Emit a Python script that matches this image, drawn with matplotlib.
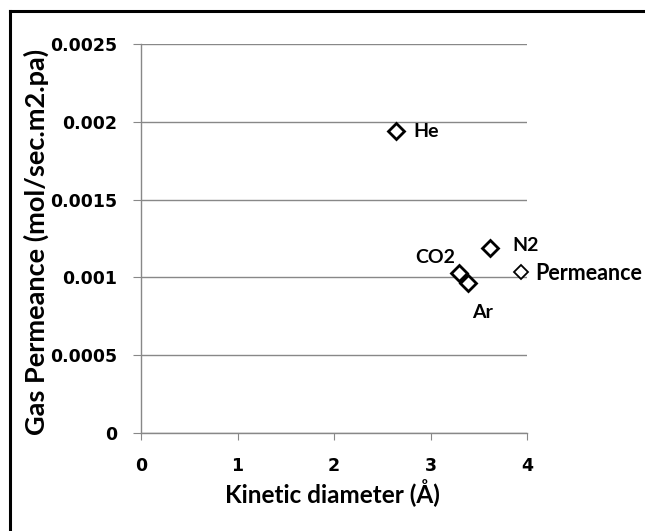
import matplotlib
matplotlib.use('Agg')
import matplotlib.pyplot as plt
from matplotlib.lines import Line2D

# kinetic diameter (A) vs gas permeance (mol/sec.m2.pa)
gases = ['He', 'CO2', 'Ar', 'N2']
diam = [2.64, 3.30, 3.39, 3.62]
perm = [0.00194, 0.00103, 0.000962, 0.00119]
# label offsets in pixels (dx, dy) and alignment
offsets = {'He': (18, 0, 'left'), 'CO2': (-4, 15, 'right'),
           'Ar': (4, -29, 'left'), 'N2': (22, 2, 'left')}

xticks = [0, 1, 2, 3, 4]
yticks = [0, 0.0005, 0.001, 0.0015, 0.002, 0.0025]
ytick_labels = ['0', '0.0005', '0.001', '0.0015', '0.002', '0.0025']

W, H = 645, 531
fig = plt.figure(figsize=(W/100, H/100), dpi=100)
ax = fig.add_axes([141/W, 1-433/H, (527-141)/W, (433-44)/H])

grey = '#888888'
txt = dict(family='Lato', weight='bold')

ax.plot(diam, perm, ls='none', marker='D', ms=8.3, mfc='white', mec='black',
        mew=2, label='Permeance', clip_on=False, zorder=3)
for g, x, y in zip(gases, diam, perm):
    dx, dy, ha = offsets[g]
    ax.annotate(g, (x, y), xytext=(dx, dy), textcoords='offset pixels',
                ha=ha, va='center', fontsize=14, **txt)

ax.set_xlim(0, 4)
ax.set_ylim(0, 0.0025)
ax.set_xticks(xticks)
ax.set_yticks(yticks)
ax.set_yticklabels(ytick_labels)
ax.grid(axis='y', color=grey, lw=1)
ax.set_axisbelow(True)
for s in ['top', 'right']:
    ax.spines[s].set_visible(False)
for s in ['left', 'bottom']:
    ax.spines[s].set_color(grey)
    ax.spines[s].set_linewidth(1)
ax.tick_params(axis='y', direction='out', length=6, color=grey, pad=11)
ax.tick_params(axis='x', direction='out', length=5, color=grey, pad=12)
for lab in ax.get_xticklabels() + ax.get_yticklabels():
    lab.set_family('DejaVu Sans')
    lab.set_weight('bold')
    lab.set_fontsize(12.5)

ax.set_xlabel('Kinetic diameter (Å)', fontsize=17.5, va='center', **txt)
ax.xaxis.set_label_coords(0.497, -0.154)
ax.set_ylabel('Gas Permeance (mol/sec.m2.pa)', fontsize=19.5, va='center', **txt)
ax.yaxis.set_label_coords(-0.27, 0.491)

leg = ax.legend(loc='center left', bbox_to_anchor=(511/W, 1-273/H),
                bbox_transform=fig.transFigure, frameon=False, borderpad=0,
                borderaxespad=0, handlelength=0.9, handletextpad=0.22,
                prop=dict(family='Lato', weight='bold', size=15.5))
h = leg.legend_handles[0]
h.set_markersize(7)
h.set_markeredgewidth(1.3)

# outer frame, only left and top edges are inside the picture
fx, fy = 9.5/W, 1-10.5/H
fig.lines.append(Line2D([fx, fx], [-0.05, fy], transform=fig.transFigure,
                        color='black', lw=2.2, solid_capstyle='projecting'))
fig.lines.append(Line2D([fx, 1.05], [fy, fy], transform=fig.transFigure,
                        color='black', lw=2.2, solid_capstyle='projecting'))

fig.savefig('out.png', dpi=100)
